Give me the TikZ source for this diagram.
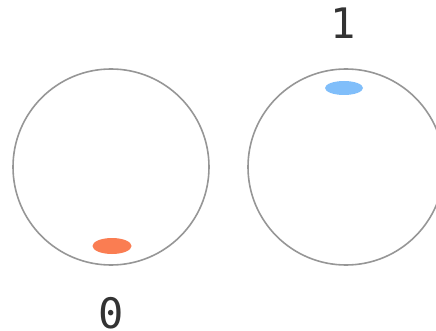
\documentclass[tikz,border=0pt]{standalone}
\usepackage{fontspec}
\setmonofont{DejaVu Sans Mono}
\usepackage{tikz}
\usetikzlibrary{shapes.geometric}

\definecolor{rimgray}{RGB}{150,150,150}
\definecolor{spotblue}{RGB}{128,190,250}
\definecolor{spotorange}{RGB}{250,125,82}
\definecolor{digitgray}{RGB}{51,51,51}

\begin{document}
\begin{tikzpicture}[x=1pt,y=-1pt]
\useasboundingbox (0,0) rectangle (436,331);
\coordinate (L) at (111,167);
\coordinate (R) at (346,167);
\node[circle, draw=rimgray, line width=1.6pt, minimum size=196pt, inner sep=0pt] (ballzero) at (L) {};
\node[circle, draw=rimgray, line width=1.6pt, minimum size=196pt, inner sep=0pt] (ballone) at (R) {};
\node[ellipse, fill=spotorange, minimum width=39pt, minimum height=16pt, inner sep=0pt] (spotzero) at (112,246) {};
\node[ellipse, fill=spotblue, minimum width=38pt, minimum height=14pt, inner sep=0pt] (spotone) at (344,88) {};
\node[text=digitgray, font=\ttfamily\fontsize{42}{42}\selectfont] (labelone) at (343,23) {1};
\node[text=digitgray, font=\ttfamily\fontsize{42}{42}\selectfont] (labelzero) at (111,313) {0};
\end{tikzpicture}
\end{document}
